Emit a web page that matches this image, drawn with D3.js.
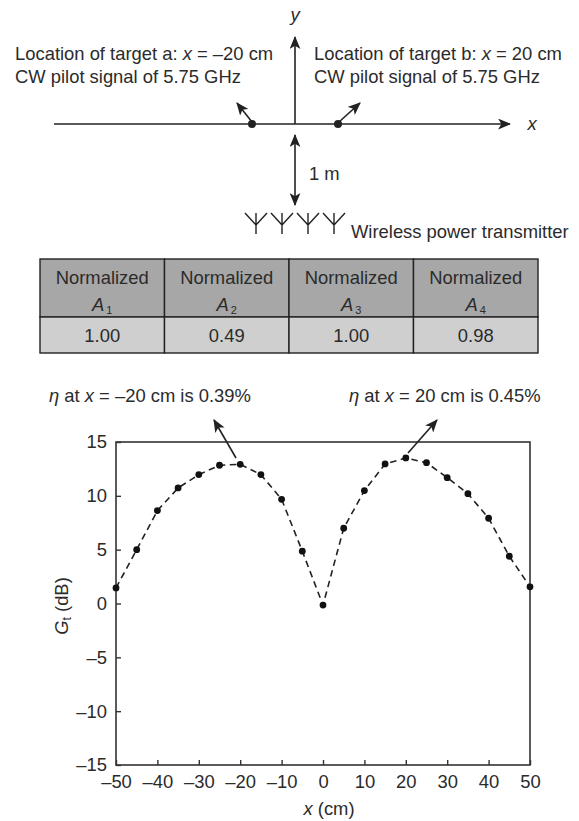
<!DOCTYPE html>
<html><head><meta charset="utf-8">
<script src="https://cdn.jsdelivr.net/npm/d3@7"></script>
<style>
html,body{margin:0;padding:0;background:#fff}
svg{display:block}
text{font-family:"Liberation Sans",Arial,sans-serif;fill:#2b2b2b}
</style></head><body>
<svg id="c" width="579" height="821"></svg>
<script>
const xPositions=[-50,-45,-40,-35,-30,-25,-20,-15,-10,-5,0,5,10,15,20,25,30,35,40,45,50];
const gainDb=[1.45,5.0,8.63,10.73,11.97,12.84,12.93,11.97,9.68,4.86,-0.15,6.99,10.49,12.96,13.52,13.08,11.69,10.2,7.92,4.39,1.55];
const xTicks=[-50,-40,-30,-20,-10,0,10,20,30,40,50];
const yTicks=[-15,-10,-5,0,5,10,15];
const amplitudeNames=["1","2","3","4"];
const amplitudeValues=["1.00","0.49","1.00","0.98"];

const svg=d3.select("#c");
const INK="#222";
const FS=18.4;
const defs=svg.append("defs");
defs.append("marker").attr("id","ah").attr("viewBox","0 0 12 10").attr("refX",11).attr("refY",5)
  .attr("markerUnits","userSpaceOnUse").attr("markerWidth",13).attr("markerHeight",11).attr("orient","auto-start-reverse")
  .append("path").attr("d","M0,0L12,5L0,10L3,5Z").attr("fill",INK);

function arrow(x1,y1,x2,y2,both){
  const l=svg.append("line").attr("x1",x1).attr("y1",y1).attr("x2",x2).attr("y2",y2)
    .attr("stroke",INK).attr("stroke-width",1.6).attr("marker-end","url(#ah)");
  if(both) l.attr("marker-start","url(#ah)");
}
function rich(x,y,parts,size,anchor){
  const t=svg.append("text").attr("x",x).attr("y",y).attr("font-size",size).attr("text-anchor",anchor||"start");
  parts.forEach(p=>{
    const s=t.append("tspan").text(p[0]);
    if(p[1]) s.attr("font-style","italic");
  });
  return t;
}
// schematic
svg.append("line").attr("x1",54).attr("y1",124).attr("x2",510).attr("y2",124).attr("stroke",INK).attr("stroke-width",1.6).attr("marker-end","url(#ah)");
svg.append("line").attr("x1",295).attr("y1",124).attr("x2",295).attr("y2",37).attr("stroke",INK).attr("stroke-width",1.6).attr("marker-end","url(#ah)");
rich(295,21,[["y",1]],18.5,"middle");
rich(532,130,[["x",1]],18.5,"middle");
[252,338].forEach(x=>svg.append("circle").attr("cx",x).attr("cy",124).attr("r",4).attr("fill",INK));
arrow(252,122,237,103);
arrow(339,122,360,103);
arrow(295,135,295,205,true);
rich(309,180,[["1 m"]],FS);
rich(15,60,[["Location of target a: "],["x",1],[" = –20 cm"]],FS);
rich(15,83,[["CW pilot signal of 5.75 GHz"]],FS);
rich(314,60,[["Location of target b: "],["x",1],[" = 20 cm"]],FS);
rich(314,83,[["CW pilot signal of 5.75 GHz"]],FS);
[256,282,308,334].forEach(x=>{
  svg.append("path").attr("d",`M${x-11},213L${x},225M${x+11},213L${x},225M${x},213V234`).attr("fill","none").attr("stroke",INK).attr("stroke-width",1.4);
});
rich(351,238,[["Wireless power transmitter"]],FS);

// table
const colX=d3.scaleBand().domain(amplitudeNames).range([40,538]);
const T=259,M=317,B=353;
svg.append("g").selectAll("rect").data(amplitudeNames).join("rect").attr("x",d=>colX(d)).attr("y",T).attr("width",colX.bandwidth()).attr("height",M-T).attr("fill","#a7a7a7").attr("stroke",INK).attr("stroke-width",1.4);
svg.append("g").selectAll("rect").data(amplitudeNames).join("rect").attr("x",d=>colX(d)).attr("y",M).attr("width",colX.bandwidth()).attr("height",B-M).attr("fill","#cfcfcf").attr("stroke",INK).attr("stroke-width",1.4);
amplitudeNames.forEach((n,i)=>{
  const cx=colX(n)+colX.bandwidth()/2;
  rich(cx,284,[["Normalized"]],FS,"middle");
  const t=rich(cx,311,[["A",1]],FS,"middle");
  t.append("tspan").text(n).attr("font-size",11).attr("dy",3).attr("dx",2);
  rich(cx,342,[[amplitudeValues[i]]],FS,"middle");
});

// chart
const x=d3.scaleLinear().domain([-50,50]).range([116,530]);
const y=d3.scaleLinear().domain([-15,15]).range([765,442]);
const fmt=d=>String(d).replace("-","–");
svg.append("rect").attr("x",116).attr("y",442).attr("width",414).attr("height",323).attr("fill","none").attr("stroke","#333").attr("stroke-width",1.6);
const gx=svg.append("g").attr("transform","translate(0,765)").call(d3.axisBottom(x).tickValues(xTicks).tickFormat(fmt).tickSizeInner(-5).tickSizeOuter(0).tickPadding(10));
const gy=svg.append("g").attr("transform","translate(116,0)").call(d3.axisLeft(y).tickValues(yTicks).tickFormat(fmt).tickSizeInner(-5).tickSizeOuter(0).tickPadding(9));
[gx,gy].forEach(g=>{
  g.select(".domain").remove();
  g.selectAll("line").attr("stroke","#333").attr("stroke-width",1.4);
  g.selectAll("text").attr("font-size",18.4).attr("fill","#2b2b2b");
  g.attr("font-family",null).attr("font-size",null);
});
svg.append("path").datum(xPositions.map((d,i)=>[d,gainDb[i]]))
  .attr("d",d3.line().x(d=>x(d[0])).y(d=>y(d[1])))
  .attr("fill","none").attr("stroke",INK).attr("stroke-width",1.6).attr("stroke-dasharray","6.5,4.5");
svg.append("g").selectAll("circle").data(xPositions).join("circle")
  .attr("cx",d=>x(d)).attr("cy",(d,i)=>y(gainDb[i])).attr("r",3.4).attr("fill","#111");
rich(329,815,[["x",1],[" (cm)"]],FS,"middle");
const yl=svg.append("text").attr("transform","translate(68,606) rotate(-90)").attr("text-anchor","middle").attr("font-size",FS);
yl.append("tspan").text("G").attr("font-style","italic");
yl.append("tspan").text("t").attr("font-size",12).attr("dy",3);
yl.append("tspan").text(" (dB)").attr("dy",-3);
rich(49,402,[["η",1],[" at "],["x",1],[" = –20 cm is 0.39%"]],FS);
rich(349,402,[["η",1],[" at "],["x",1],[" = 20 cm is 0.45%"]],FS);
arrow(236,458,214,420);
arrow(408,453,437,420);
</script></body></html>
